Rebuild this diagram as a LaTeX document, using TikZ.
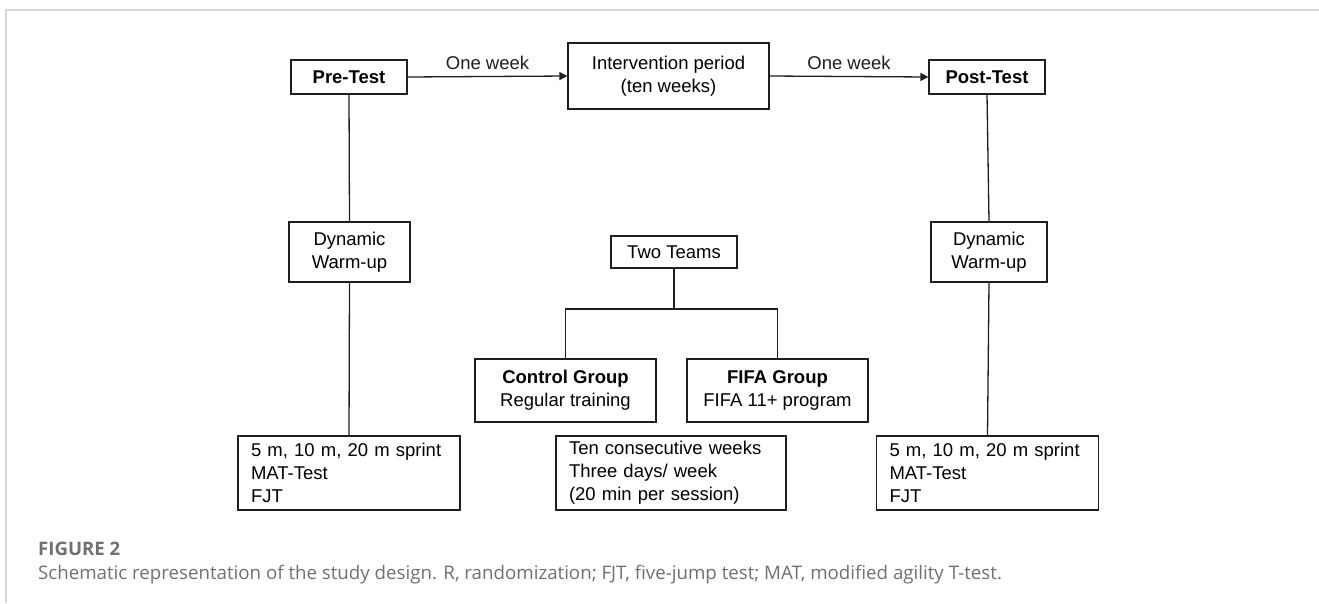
\documentclass[tikz,border=0pt]{standalone}
\usepackage{fontspec}
\setmainfont{Liberation Sans}
\newfontfamily\capfont{Open Sans}
\usetikzlibrary{arrows.meta}
\definecolor{linegray}{RGB}{30,30,30}
\definecolor{framegray}{RGB}{215,215,215}
\definecolor{capgray}{RGB}{112,112,112}
\begin{document}
\begin{tikzpicture}[x=1pt,y=-1pt,
    box/.style={draw=linegray, line width=1.3pt, inner sep=0pt, align=center,
      font=\fontsize{18.5}{23}\selectfont},
    listbox/.style={box, align=left, text width=#1, inner xsep=13pt},
    link/.style={linegray, line width=1.3pt},
    weekarrow/.style={link, -{Triangle[length=8pt,width=8pt]}},
    weeklabel/.style={above=3pt, font=\fontsize{18.5}{23}\selectfont}]

        \useasboundingbox (0,0) rectangle (1319,603);
        \draw[framegray, line width=1.5pt] (6,603) -- (6,10) -- (1319,10);

        % top row
        \node[box, minimum width=116pt, minimum height=34pt] (pre) at (349,77) {\textbf{Pre-Test}};
        \node[box, minimum width=201pt, minimum height=66pt] (inter) at (668.5,76) {Intervention period\\(ten weeks)};
        \node[box, minimum width=116pt, minimum height=34pt] (post) at (987,77) {\textbf{Post-Test}};

        \draw[weekarrow] (pre.east) -- (inter.west) node[midway, weeklabel] {One week};
        \draw[weekarrow] (inter.east) -- (post.west) node[midway, weeklabel] {One week};

        % warm-up
        \node[box, minimum width=121pt, minimum height=60pt] (warmL) at (349.5,252) {Dynamic\\Warm-up};
        \node[box, minimum width=116pt, minimum height=60pt] (warmR) at (989,252) {Dynamic\\Warm-up};

        % groups
        \node[box, minimum width=126pt, minimum height=32pt] (teams) at (674,252) {Two Teams};
        \node[box, minimum width=181pt, minimum height=63pt] (ctrl) at (565.5,390.5) {\textbf{Control Group}\\Regular training};
        \node[box, minimum width=181pt, minimum height=63pt] (fifa) at (777.5,390.5) {\textbf{FIFA Group}\\FIFA 11+ program};
        \coordinate (br) at (674,309);

        % tests
        \node[listbox=196pt, minimum height=74pt] (testL) at (349,473) {5 m, 10 m, 20 m sprint\\MAT-Test\\FJT};
        \node[listbox=204pt, minimum height=74pt] (ten) at (671,473) {Ten consecutive weeks\\Three days/ week\\(20 min per session)};
        \node[listbox=196pt, minimum height=74pt] (testR) at (987.5,473) {5 m, 10 m, 20 m sprint\\MAT-Test\\FJT};

        \draw[link] (pre.south) -- (warmL.north);
        \draw[link] (warmL.south) -- (testL.north);
        \draw[link] (post.south) -- (warmR.north);
        \draw[link] (warmR.south) -- (testR.north);
        \draw[link] (teams.south) -- (br);
        \draw[link] (ctrl.north) |- (br) -| (fifa.north);

        % caption
        \node[anchor=base west, inner sep=0pt, text=capgray, font=\capfont\fontsize{18.6}{22}\selectfont\bfseries] (figno) at (38,555) {FIGURE 2};
        \node[anchor=base west, inner sep=0pt, text=capgray, font=\capfont\fontsize{18.7}{22}\selectfont] (captxt) at (38,579) {Schematic representation of the study design. R, randomization; FJT, five-jump test; MAT, modified agility T-test.};

\end{tikzpicture}
\end{document}
